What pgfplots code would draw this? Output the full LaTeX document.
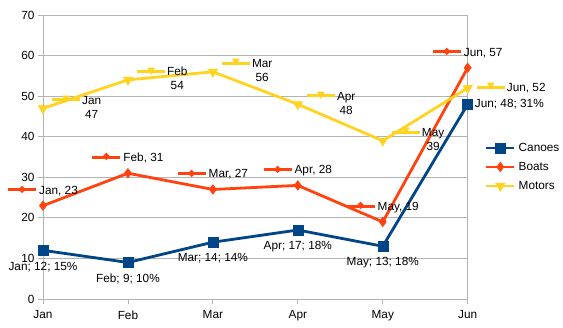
\documentclass[border=0pt]{standalone}
\usepackage{pgfplots}
\pgfplotsset{compat=1.18}
\usepackage{fontspec}
\setmainfont{Liberation Sans}
\newfontfamily\symfont{DejaVu Sans}
\definecolor{canoe}{HTML}{004586}
\definecolor{boat}{HTML}{FF420E}
\definecolor{motor}{HTML}{FFD320}
\definecolor{gridc}{HTML}{B3B3B3}
\newcommand\lblfont{\fontsize{11.8bp}{14bp}\selectfont}
\newsavebox\keybox
\newcommand\keyline[3]{%
  \sbox\keybox{\color{#1}\symfont\fontsize{#3}{#3}\selectfont #2}%
  \makebox[0pt][l]{\color{#1}\rule[\dimexpr0.36em-1.5bp\relax]{28bp}{3bp}}%
  \makebox[28bp]{\raisebox{\dimexpr0.36em-0.5\ht\keybox+0.5\dp\keybox\relax}{\usebox\keybox}}}
\newcommand\boatkey{\keyline{boat}{◆}{10bp}\hspace{3bp}}
\newcommand\motorkey{\keyline{motor}{▼}{10bp}\hspace{2bp}}
\newcommand\two[2]{\begin{tabular}[t]{@{}c@{}}#1\\#2\end{tabular}}
\newcommand\semi{\char59\relax}
\begin{document}
\begin{tikzpicture}
\begin{axis}[
  at={(43bp,29bp)}, anchor=south west,
  scale only axis, width=424.7bp, height=284bp,
  xmin=0, xmax=5, ymin=0, ymax=70,
  xtick={0,1,2,3,4,5}, xticklabels={Jan,Feb,Mar,Apr,May,Jun},
  ytick={0,10,...,70},
  ymajorgrids, grid style={gridc, line width=0.8bp},
  axis line style={gridc, line width=0.8bp},
  tick style={gridc, line width=0.8bp},
  tick align=outside, major tick length=5bp,
  xtick pos=bottom, ytick pos=left,
  ticklabel style={font=\lblfont, text=black},
  xticklabel style={yshift=-3bp},
  /pgf/number format/assume math mode=true,
  clip=false,
  legend style={at={(1,0.465)}, anchor=west, xshift=17bp, draw=none, fill=none,
    inner sep=0pt, font=\lblfont, row sep=6bp,
    nodes={inner ysep=0pt, inner xsep=3bp, text height=10bp, text depth=3bp}},
  legend cell align=left,
  legend image code/.code={\draw[mark repeat=2,mark phase=2] plot coordinates {(0bp,0bp) (14bp,0bp) (28bp,0bp)};},
]
\addplot[canoe, line width=2.8bp, mark=square*, mark size=5bp, mark options={line width=0.5bp}]
  coordinates {(0,12) (1,9) (2,14) (3,17) (4,13) (5,48)};
\addlegendentry{Canoes}
\addplot[boat, line width=2.8bp, mark=diamond*, mark size=4.8bp, mark options={line width=0.5bp}]
  coordinates {(0,23) (1,31) (2,27) (3,28) (4,19) (5,57)};
\addlegendentry{Boats}
\addplot[motor, line width=2.8bp, mark=triangle*, mark size=5.5bp, mark options={line width=0.5bp, rotate=180}]
  coordinates {(0,47) (1,54) (2,56) (3,48) (4,39) (5,52)};
\addlegendentry{Motors}
% Canoes labels
\addplot[draw=none, no marks, forget plot, nodes near coords, point meta=explicit symbolic,
  every node near coord/.append style={anchor=north, yshift=-9.5bp, inner sep=0pt, font=\lblfont, text=black, text height=10bp, text depth=3bp}]
  table[x=x, y=y, meta=lab, col sep=comma] {
x,y,lab
0,12,Jan\semi{} 12\semi{} 15\%
1,9,Feb\semi{} 9\semi{} 10\%
2,14,Mar\semi{} 14\semi{} 14\%
3,17,Apr\semi{} 17\semi{} 18\%
4,13,May\semi{} 13\semi{} 18\%
};
\addplot[draw=none, no marks, forget plot, nodes near coords, point meta=explicit symbolic,
  every node near coord/.append style={anchor=west, xshift=7bp, inner sep=0pt, font=\lblfont, text=black}]
  table[x=x, y=y, meta=lab, col sep=comma] {
x,y,lab
5,48,Jun\semi{} 48\semi{} 31\%
};
% Boats labels
\addplot[draw=none, no marks, forget plot, nodes near coords, point meta=explicit symbolic,
  every node near coord/.append style={anchor=south, yshift=8.4bp, inner sep=0pt, font=\lblfont, text=black, text height=10bp, text depth=3bp}]
  table[x=x, y=y, meta=lab, col sep=semicolon] {
x;y;lab
0;23;\boatkey Jan, 23
1;31;\boatkey Feb, 31
2;27;\boatkey Mar, 27
3;28;\boatkey Apr, 28
4;19;\boatkey May, 19
5;57;\boatkey Jun, 57
};
% Motors labels
\addplot[draw=none, no marks, forget plot, nodes near coords, point meta=explicit symbolic,
  every node near coord/.append style={anchor=west, xshift=9bp, inner sep=0pt, font=\lblfont, text=black}]
  table[x=x, y=y, meta=lab, col sep=semicolon] {
x;y;lab
0;47;\motorkey\two{Jan}{47}
1;54;\motorkey\two{Feb}{54}
2;56;\motorkey\two{Mar}{56}
3;48;\motorkey\two{Apr}{48}
4;39;\motorkey\two{May}{39}
5;52;\motorkey Jun, 52
};
\end{axis}
\pgfresetboundingbox
\path (0,0) rectangle (563bp,328bp);
\end{tikzpicture}
\end{document}
